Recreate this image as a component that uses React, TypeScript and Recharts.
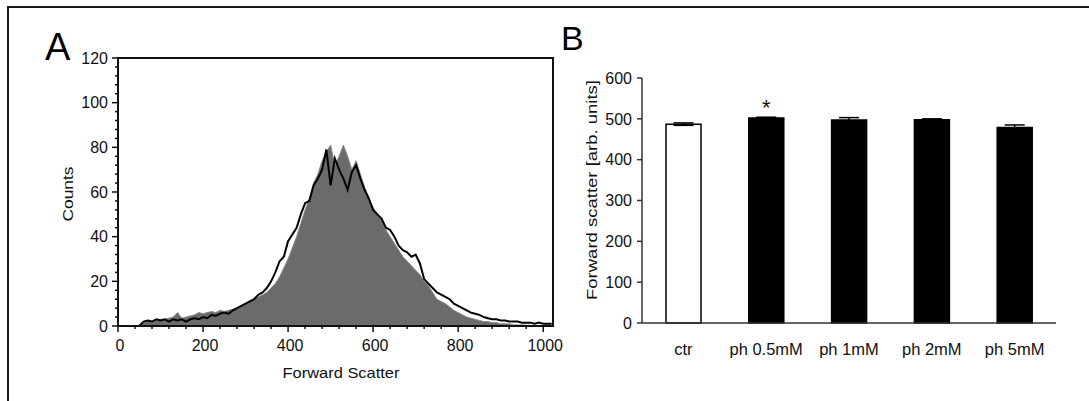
import React from "react";
import {
  Area,
  Bar,
  BarChart,
  Cell,
  ComposedChart,
  ErrorBar,
  LabelList,
  Line,
  ReferenceArea,
  XAxis,
  YAxis
} from "recharts";

const FONT = "'Liberation Sans', Arial, sans-serif";

// panel A: forward scatter histogram
const fscChannel = [
  0, 10, 20, 30, 40, 50, 60, 70, 80, 90, 100, 110, 120, 130, 140, 150, 160, 170, 180, 190,
  200, 210, 220, 230, 240, 250, 260, 270, 280, 290, 300, 310, 320, 330, 340, 350, 360, 370,
  380, 390, 400, 410, 420, 430, 440, 450, 460, 470, 480, 490, 500, 510, 520, 530, 540, 550,
  560, 570, 580, 590, 600, 610, 620, 630, 640, 650, 660, 670, 680, 690, 700, 710, 720, 730,
  740, 750, 760, 770, 780, 790, 800, 810, 820, 830, 840, 850, 860, 870, 880, 890, 900, 910,
  920, 930, 940, 950, 960, 970, 980, 990, 1000, 1010, 1020
];
const ctrlCounts = [
  0, 0, 0, 0, 0, 0, 1.5, 2, 2, 2.5, 3, 3, 3.5, 4, 6, 3.5, 4, 4.5, 5, 6,
  5.5, 6, 6.5, 6, 7, 6.5, 7, 7.5, 8, 9, 10, 11, 12, 13, 14, 15, 17, 19,
  22, 26, 30, 35, 40, 46, 52, 57, 64, 68, 74, 78, 81, 72, 76, 81, 76, 70,
  74, 68, 62, 57, 53, 50, 47, 43, 40, 37, 34, 31, 29, 27, 25, 23, 20, 18,
  15, 12, 11, 10, 8.5, 7, 6, 5, 4, 3.5, 3, 2.5, 2, 2, 1.5, 1.5, 1, 1,
  1, 0.5, 0.5, 0.5, 0.3, 0.3, 0.2, 0.2, 0.1, 0.1, 0
];
const treatCounts = [
  0, 0, 0, 0, 0, 0, 2, 2.5, 2, 3, 2.5, 3, 2, 3, 2.5, 3, 2, 3, 3.5, 3,
  4, 3.5, 5, 4.5, 5.5, 6, 5.5, 7, 8, 9, 10, 11, 12, 14, 15, 17, 20, 24,
  29, 31, 38, 41, 44, 50, 55, 56, 63, 66, 70, 79, 63, 75, 70, 66, 61, 69,
  72, 66, 61, 57, 52, 50, 48, 44, 43, 40, 36, 34, 33, 31, 32, 28, 21, 19,
  17, 15, 14, 13, 12, 10, 9, 8, 7, 6, 5.5, 5, 4, 3.5, 3, 3, 2.5, 2.5,
  2, 2, 2, 1.5, 1.5, 1.5, 1, 1.5, 1, 1, 1
];
const fscTicks = [
  0, 40, 80, 120, 160, 200, 240, 280, 320, 360, 400, 440, 480, 520, 560, 600, 640, 680,
  720, 760, 800, 840, 880, 920, 960, 1000
];
const countTicks = [
  0, 4, 8, 12, 16, 20, 24, 28, 32, 36, 40, 44, 48, 52, 56, 60, 64, 68, 72, 76, 80, 84, 88,
  92, 96, 100, 104, 108, 112, 116, 120
];

// panel B: mean forward scatter per condition
const conditions = ["ctr", "ph 0.5mM", "ph 1mM", "ph 2mM", "ph 5mM"];
const meanFsc = [487, 502, 497, 498, 479];
const semFsc = [3, 2, 6, 2, 6];
const significance = ["", "*", "", "", ""];
const fscBarTicks = [0, 100, 200, 300, 400, 500, 600];

const histData = fscChannel.map((x, i) => ({ x, ctrl: ctrlCounts[i], treat: treatCounts[i] }));
const barData = conditions.map((name, i) => ({
  name,
  value: meanFsc[i],
  sem: semFsc[i],
  sig: significance[i]
}));

function FscTick(props: any) {
  const { x, y, payload } = props;
  const major = payload.value % 200 === 0;
  return (
    <g>
      <line x1={x} x2={x} y1={y} y2={y + (major ? 6 : 3)} stroke="#111" strokeWidth={1.5} />
      {major && (
        <text x={x + 2} y={y + 25} textAnchor="middle" fontSize={16} fontFamily={FONT} fill="#111">
          {payload.value}
        </text>
      )}
    </g>
  );
}

function CountTick(props: any) {
  const { x, y, payload } = props;
  const major = payload.value % 20 === 0;
  return (
    <g>
      <line x1={x - (major ? 6 : 3)} x2={x} y1={y} y2={y} stroke="#111" strokeWidth={1.5} />
      {major && (
        <text x={x - 10} y={y + 5.5} textAnchor="end" fontSize={16} fontFamily={FONT} fill="#111">
          {payload.value}
        </text>
      )}
    </g>
  );
}

function ConditionTick(props: any) {
  const { x, y, payload } = props;
  return (
    <text x={x} y={y + 32} textAnchor="middle" fontSize={16.5} fontFamily={FONT} fill="#111">
      {payload.value}
    </text>
  );
}

function Star(props: any) {
  const { x, y, width, value } = props;
  if (!value) return null;
  return (
    <text x={x + width / 2} y={y - 3} textAnchor="middle" fontSize={22} fontFamily={FONT} fill="#111">
      {value}
    </text>
  );
}

export default function App() {
  return (
    <div style={{ position: "absolute", left: 0, top: 0, width: 1089, height: 401, background: "#fff", overflow: "hidden" }}>
      <div
        style={{
          position: "absolute",
          left: 7,
          top: 6,
          width: 1100,
          height: 420,
          borderLeft: "2px solid #1a1a1a",
          borderTop: "2px solid #1a1a1a"
        }}
      />

      <div style={{ position: "absolute", left: 0, top: 0 }}>
        <ComposedChart
          width={580}
          height={401}
          data={histData}
          margin={{ top: 58, right: 27, bottom: 35, left: 58 }}
        >
          <XAxis
            type="number"
            dataKey="x"
            domain={[0, 1023]}
            ticks={fscTicks}
            height={40}
            tickSize={0}
            tickMargin={0}
            tickLine={false}
            axisLine={{ stroke: "#111", strokeWidth: 2 }}
            tick={FscTick}
            interval={0}
          />
          <YAxis
            type="number"
            domain={[0, 120]}
            ticks={countTicks}
            width={60}
            tickSize={0}
            tickMargin={0}
            tickLine={false}
            axisLine={{ stroke: "#111", strokeWidth: 2 }}
            tick={CountTick}
            interval={0}
          />
          <Area
            type="linear"
            dataKey="ctrl"
            stroke="#8a8a8a"
            strokeWidth={1}
            fill="#6b6b6b"
            fillOpacity={1}
            isAnimationActive={false}
          />
          <Line
            type="linear"
            dataKey="treat"
            stroke="#000"
            strokeWidth={2}
            dot={false}
            isAnimationActive={false}
          />
          <ReferenceArea
            x1={0}
            x2={1023}
            y1={0}
            y2={120}
            fill="none"
            stroke="#111"
            strokeWidth={2}
            strokeOpacity={1}
            ifOverflow="visible"
          />
        </ComposedChart>
      </div>

      <svg style={{ position: "absolute", left: 0, top: 0 }} width={1089} height={401}>
        <text x={45} y={60} fontSize={38} fontFamily={FONT} fill="#000">A</text>
        <text x={561} y={50} fontSize={34} fontFamily={FONT} fill="#000">B</text>
        <text
          x={341}
          y={378}
          textAnchor="middle"
          fontSize={15}
          fontFamily={FONT}
          fill="#111"
          textLength={117}
          lengthAdjust="spacingAndGlyphs"
        >
          Forward Scatter
        </text>
        <text
          transform="translate(73 194) rotate(-90)"
          textAnchor="middle"
          fontSize={15}
          fontFamily={FONT}
          fill="#111"
          textLength={55}
          lengthAdjust="spacingAndGlyphs"
        >
          Counts
        </text>
        <text
          transform="translate(597 190) rotate(-90)"
          textAnchor="middle"
          fontSize={15}
          fontFamily={FONT}
          fill="#111"
          textLength={220}
          lengthAdjust="spacingAndGlyphs"
        >
          Forward scatter [arb. units]
        </text>
      </svg>

      <div style={{ position: "absolute", left: 560, top: 0 }}>
        <BarChart
          width={529}
          height={401}
          data={barData}
          margin={{ top: 78, right: 33, bottom: 38, left: 32 }}
        >
          <XAxis
            dataKey="name"
            height={40}
            tickSize={0}
            tickMargin={0}
            tickLine={false}
            axisLine={{ stroke: "#333", strokeWidth: 1.5 }}
            tick={ConditionTick}
            interval={0}
          />
          <YAxis
            domain={[0, 600]}
            ticks={fscBarTicks}
            width={50}
            tickSize={5}
            tickMargin={5}
            tickLine={{ stroke: "#333", strokeWidth: 1.5 }}
            axisLine={{ stroke: "#333", strokeWidth: 1.5 }}
            tick={{ fill: "#111", fontSize: 16, fontFamily: FONT }}
            interval={0}
          />
          <Bar dataKey="value" barSize={35} stroke="#000" strokeWidth={1.5} isAnimationActive={false}>
            {barData.map((d, i) => (
              <Cell key={d.name} fill={i === 0 ? "#fff" : "#000"} />
            ))}
            <ErrorBar dataKey="sem" width={10} stroke="#000" strokeWidth={1.5} direction="y" />
            <LabelList dataKey="sig" content={Star} />
          </Bar>
        </BarChart>
      </div>
    </div>
  );
}
